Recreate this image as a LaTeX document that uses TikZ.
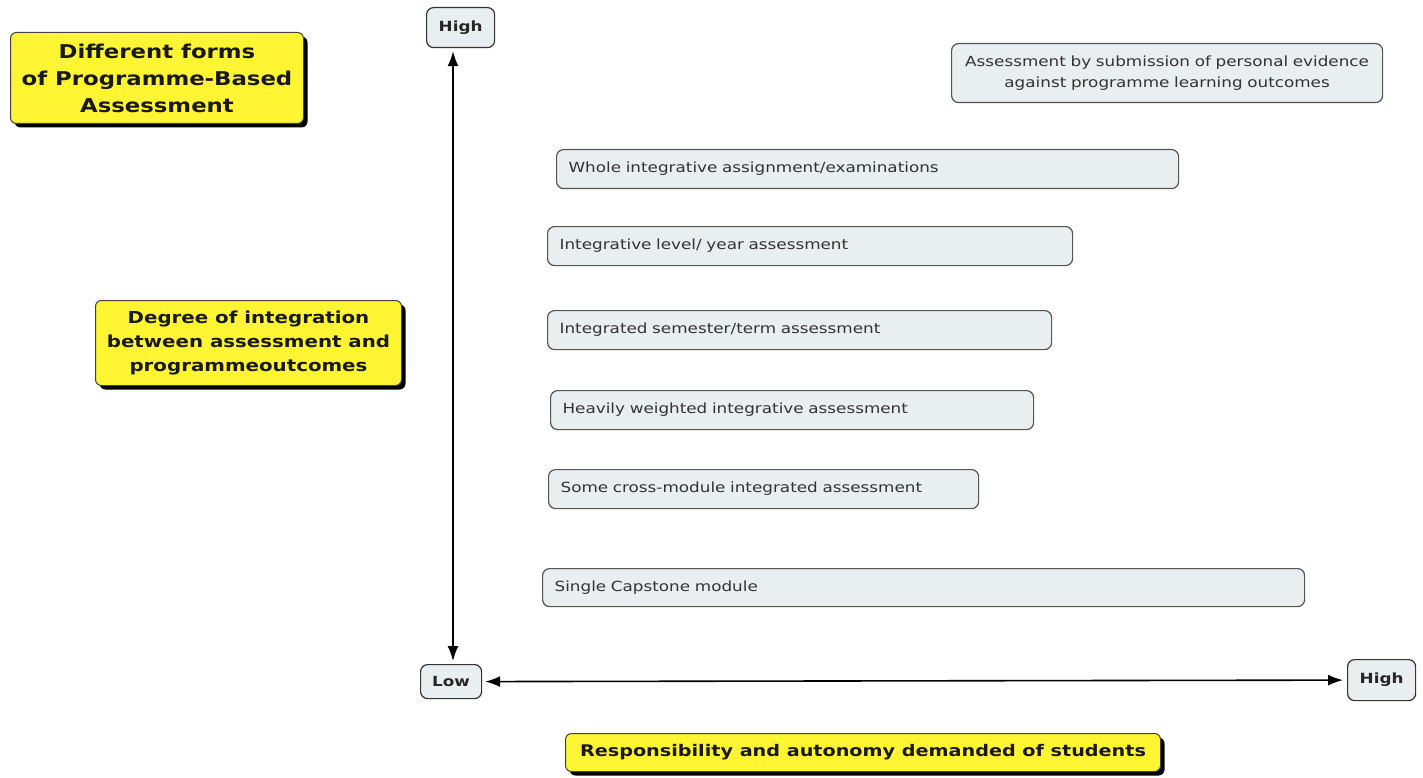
\documentclass[tikz,border=0pt]{standalone}
\usepackage{fontspec}
\setmainfont[FakeStretch=1.2]{DejaVu Sans}
\usetikzlibrary{arrows.meta,shadows}
\definecolor{boxfill}{HTML}{E9EEF1}
\definecolor{boxline}{HTML}{555555}
\definecolor{txt}{HTML}{333333}
\definecolor{yel}{HTML}{FFF533}
\tikzset{
  bar/.style={draw=boxline, line width=1.2pt, fill=boxfill, rounded corners=7pt, anchor=north west,
    inner xsep=12pt, inner ysep=0pt, align=left, text=txt, font=\fontsize{14}{21}\selectfont},
  tag/.style={draw=black!80, line width=1.2pt, fill=boxfill, rounded corners=7pt, anchor=north west,
    inner sep=0pt, align=center, font=\bfseries\fontsize{14}{16}\selectfont, text=black!85},
  ybox/.style={draw=black!75, line width=1pt, fill=yel, rounded corners=6pt, anchor=north west,
    inner sep=0pt, align=center, font=\bfseries\fontsize{19}{27}\selectfont, text=black!90,
    drop shadow={shadow xshift=4pt, shadow yshift=-4pt, opacity=1, fill=black}},
  axis/.style={line width=1.6pt, {Latex[length=15pt,width=11pt]}-{Latex[length=15pt,width=11pt]}}
}
\begin{document}
\begin{tikzpicture}[x=1pt,y=-1pt]
\useasboundingbox (0,0) rectangle (1423,778);
\node[ybox, minimum width=293pt, minimum height=91pt] (title) at (10,32)
  {Different forms\\of Programme-Based\\Assessment};
\node[ybox, minimum width=306pt, minimum height=85pt, font=\bfseries\fontsize{16.5}{24}\selectfont] (degree) at (95,300)
  {Degree of integration\\between assessment and\\programmeoutcomes};
\node[ybox, minimum width=595pt, minimum height=38pt, font=\bfseries\fontsize{16}{20}\selectfont] (resp) at (565,733)
  {Responsibility and autonomy demanded of students};
\node[tag, minimum width=68pt, minimum height=40pt] (hightop) at (426,7) {High};
\node[tag, minimum width=61pt, minimum height=34pt] (low) at (420,664) {Low};
\node[tag, minimum width=68pt, minimum height=41pt] (highr) at (1347,659) {High};
\node[bar, text width=407pt, minimum height=59pt, align=center] (a1) at (951,43)
  {Assessment by submission of personal evidence\\against programme learning outcomes};
\node[bar, text width=598pt, minimum height=39pt] (a2) at (556,149) {Whole integrative assignment/examinations};
\node[bar, text width=501pt, minimum height=39pt] (a3) at (547,226) {Integrative level/ year assessment};
\node[bar, text width=480pt, minimum height=39pt] (a4) at (547,310) {Integrated semester/term assessment};
\node[bar, text width=459pt, minimum height=39pt] (a5) at (550,390) {Heavily weighted integrative assessment};
\node[bar, text width=406pt, minimum height=39pt] (a6) at (548,469) {Some cross-module integrated assessment};
\node[bar, text width=738pt, minimum height=38pt] (a7) at (542,568) {Single Capstone module};
\draw[axis, shorten <=3pt, shorten >=3pt] (low.north -| 453,0) -- (hightop.south -| 453,0);
\draw[axis, shorten <=3pt, shorten >=4pt] (low.east) -- (highr.west);
\end{tikzpicture}
\end{document}
